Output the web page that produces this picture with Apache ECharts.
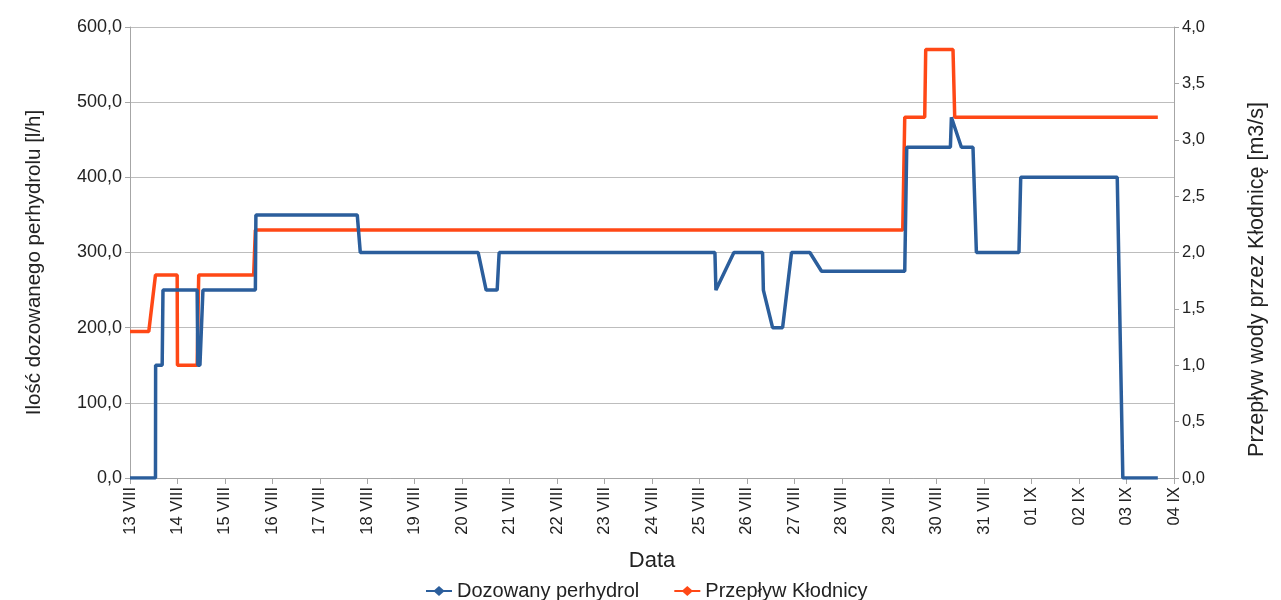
<!DOCTYPE html>
<html>
<head>
<meta charset="utf-8">
<script src="https://cdn.jsdelivr.net/npm/echarts@6/dist/echarts.min.js"></script>
<style>
html,body{margin:0;padding:0;background:#fff;}
#chart{width:1281px;height:600px;}
</style>
</head>
<body>
<div id="chart"></div>
<script>
// Tick labels (day offsets 0..22 from 13 VIII)
const dateLabels = ['13 VIII','14 VIII','15 VIII','16 VIII','17 VIII','18 VIII','19 VIII','20 VIII','21 VIII','22 VIII','23 VIII','24 VIII','25 VIII','26 VIII','27 VIII','28 VIII','29 VIII','30 VIII','31 VIII','01 IX','02 IX','03 IX','04 IX'];

// Dozowany perhydrol [l/h] – day offset / value
const perhydrolDay = [0, 0.537, 0.540, 0.678, 0.695, 1.415, 1.430, 1.474, 1.537, 2.642, 2.653, 4.789, 4.853, 7.337, 7.505, 7.737, 7.779, 12.326, 12.347, 12.726, 13.330, 13.347, 13.541, 13.752, 13.940, 14.326, 14.573, 16.326, 16.368, 17.288, 17.309, 17.520, 17.764, 17.836, 18.733, 18.770, 20.804, 20.922, 21.659];
const perhydrolVal = [0, 0, 150, 150, 250, 250, 150, 150, 250, 250, 350, 350, 300, 300, 250, 250, 300, 300, 250, 300, 300, 250, 200, 200, 300, 300, 275, 275, 440, 440, 480, 440, 440, 300, 300, 400, 400, 0, 0];

// Przepływ Kłodnicy [m3/s] – day offset / value
const przeplywDay = [0, 0.396, 0.537, 0.994, 1.000, 1.415, 1.448, 2.606, 2.642, 16.284, 16.326, 16.747, 16.768, 17.343, 17.379, 21.659];
const przeplywVal = [1.3, 1.3, 1.8, 1.8, 1.0, 1.0, 1.8, 1.8, 2.2, 2.2, 3.2, 3.2, 3.8, 3.8, 3.2, 3.2];

const leftTicks = {min: 0, max: 600, interval: 100};
const rightTicks = {min: 0, max: 4, interval: 0.5};

const zip = (xs, ys) => xs.map((x, i) => [x, ys[i]]);
const fmt = v => v.toFixed(1).replace('.', ',');
const FONT = '"Liberation Sans", Arial, sans-serif';
const BLUE = '#2b5e9c', RED = '#ff4816';
const legendIcon = 'path://M0,4L8.5,4L13,0L17.5,4L26,4L26,6L17.5,6L13,10L8.5,6L0,6Z';

const chart = echarts.init(document.getElementById('chart'), null, {renderer: 'canvas'});
chart.setOption({
  animation: false,
  backgroundColor: '#fff',
  textStyle: {fontFamily: FONT},
  grid: {left: 130, right: 107, top: 27, bottom: 122, containLabel: false},
  legend: {
    top: 581, left: 426, itemWidth: 26, itemHeight: 10, itemGap: 35, padding: 0,
    textStyle: {fontSize: 20, color: '#222', fontFamily: FONT},
    data: [{name: 'Dozowany perhydrol', icon: legendIcon}, {name: 'Przepływ Kłodnicy', icon: legendIcon}]
  },
  xAxis: {
    type: 'value', min: 0, max: 22, interval: 1,
    name: 'Data', nameLocation: 'middle', nameGap: 72,
    nameTextStyle: {fontSize: 22, color: '#222', fontFamily: FONT},
    axisLine: {show: true, onZero: false, lineStyle: {color: '#a6a6a6', width: 1}},
    axisTick: {show: true, length: 6, lineStyle: {color: '#a6a6a6'}},
    axisLabel: {rotate: 90, fontSize: 16.5, color: '#222', margin: 9, fontFamily: FONT,
      formatter: v => dateLabels[Math.round(v)] || ''},
    splitLine: {show: false}
  },
  yAxis: [{
    type: 'value', min: leftTicks.min, max: leftTicks.max, interval: leftTicks.interval, position: 'left',
    name: 'Ilość dozowanego perhydrolu [l/h]', nameLocation: 'middle', nameGap: 85, nameRotate: 90,
    nameTextStyle: {fontSize: 20.5, color: '#222', fontFamily: FONT, padding: [0, 20, 0, 0]},
    axisLine: {show: true, lineStyle: {color: '#a6a6a6'}},
    axisTick: {show: true, length: 5, lineStyle: {color: '#a6a6a6'}},
    axisLabel: {fontSize: 18, color: '#222', margin: 8, formatter: fmt, fontFamily: FONT},
    splitLine: {show: true, lineStyle: {color: '#bdbdbd', width: 1}}
  }, {
    type: 'value', min: rightTicks.min, max: rightTicks.max, interval: rightTicks.interval, position: 'right',
    name: 'Przepływ wody przez Kłodnicę [m3/s]', nameLocation: 'middle', nameGap: 72, nameRotate: 90,
    nameTextStyle: {fontSize: 21.5, color: '#222', fontFamily: FONT, padding: [0, 54, 0, 0]},
    axisLine: {show: true, lineStyle: {color: '#a6a6a6'}},
    axisTick: {show: true, length: 5, lineStyle: {color: '#a6a6a6'}},
    axisLabel: {fontSize: 16.5, color: '#222', margin: 8, formatter: fmt, fontFamily: FONT},
    splitLine: {show: false}
  }],
  series: [{
    name: 'Dozowany perhydrol', type: 'line', yAxisIndex: 0, showSymbol: false, symbol: 'diamond',
    color: BLUE, lineStyle: {color: BLUE, width: 3.5}, data: zip(perhydrolDay, perhydrolVal), z: 3
  }, {
    name: 'Przepływ Kłodnicy', type: 'line', yAxisIndex: 1, showSymbol: false, symbol: 'diamond',
    color: RED, lineStyle: {color: RED, width: 3.5}, data: zip(przeplywDay, przeplywVal), z: 2
  }]
});
</script>
</body>
</html>
